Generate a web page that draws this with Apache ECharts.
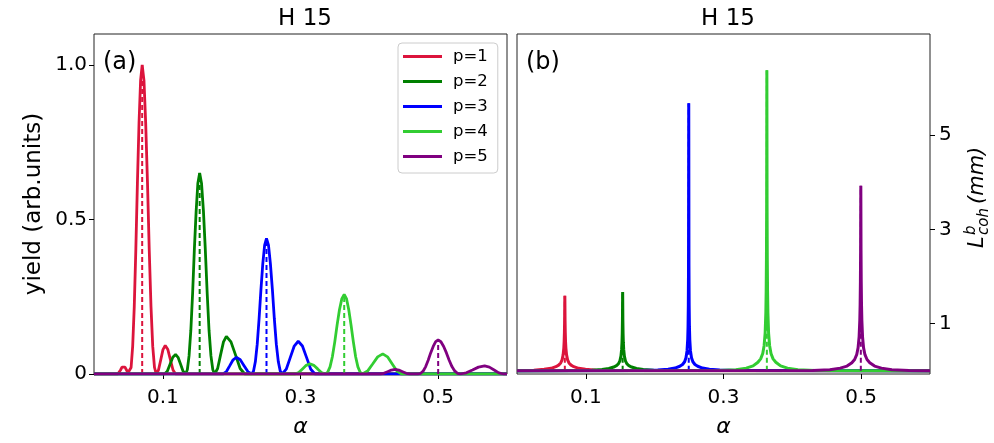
<!DOCTYPE html>
<html>
<head>
<meta charset="utf-8">
<script src="https://cdn.jsdelivr.net/npm/echarts@6/dist/echarts.min.js"></script>
<style>
html,body{margin:0;padding:0;background:#fff;}
#chart{width:994px;height:443px;}
</style>
</head>
<body>
<div id="chart"></div>
<script>
// ---------- DATA ----------
const seriesNames = ['p=1', 'p=2', 'p=3', 'p=4', 'p=5'];
const colors = ['#DC143C', '#008000', '#0000FF', '#32CD32', '#800080'];

const xTickValues = [0.1, 0.3, 0.5];
const xTickLabels = ['0.1', '0.3', '0.5'];
const yTickValuesA = [0, 0.5, 1.0];
const yTickLabelsA = ['0', '0.5', '1.0'];
const yTickValuesB = [1, 3, 5];
const yTickLabelsB = ['1', '3', '5'];

// panel (a): yield vs alpha
const yieldP1 = [[0,0],[0.0345,0],[0.0366,0.004],[0.0386,0.013],[0.0407,0.022],[0.0428,0.026],[0.0450,0.022],[0.0472,0.013],[0.0494,0.004],[0.0516,0],
  [0.0539,0.021],[0.0562,0.090],[0.0585,0.218],[0.0608,0.405],[0.0631,0.620],[0.0654,0.811],[0.0677,0.950],[0.0700,1.0],
  [0.0726,0.950],[0.0751,0.811],[0.0777,0.620],[0.0802,0.405],[0.0828,0.218],[0.0853,0.090],[0.0879,0.021],[0.0904,0],
  [0.0937,0.013],[0.0970,0.046],[0.1002,0.079],[0.1035,0.092],[0.1073,0.079],[0.1110,0.046],[0.1148,0.013],[0.1185,0],[0.6,0]];
const yieldP2 = [[0,0],[0.1025,0],[0.1065,0.0092],[0.1105,0.0315],[0.1145,0.054],[0.1185,0.063],[0.1221,0.054],[0.1258,0.0315],[0.1294,0.0092],[0.1330,0],
  [0.1356,0.0137],[0.1381,0.0585],[0.1407,0.1417],[0.1433,0.263],[0.1458,0.403],[0.1484,0.527],[0.1509,0.6175],[0.1535,0.65],
  [0.1562,0.6175],[0.1590,0.527],[0.1617,0.403],[0.1644,0.263],[0.1671,0.1417],[0.1699,0.0585],[0.1726,0.0137],[0.1753,0],
  [0.1796,0.0178],[0.1838,0.061],[0.1881,0.104],[0.1923,0.122],[0.1990,0.104],[0.2057,0.061],[0.2123,0.0178],[0.2190,0],[0.6,0]];
const yieldP3 = [[0,0],[0.1875,0],[0.1924,0.0079],[0.1973,0.027],[0.2021,0.046],[0.2070,0.054],[0.2125,0.046],[0.2180,0.027],[0.2235,0.0079],[0.2290,0],
  [0.2317,0.0092],[0.2344,0.0395],[0.2371,0.0957],[0.2398,0.178],[0.2425,0.272],[0.2452,0.356],[0.2479,0.417],[0.2506,0.439],
  [0.2535,0.417],[0.2563,0.356],[0.2592,0.272],[0.2620,0.178],[0.2649,0.0957],[0.2678,0.0395],[0.2706,0.0092],[0.2735,0],
  [0.2793,0.0155],[0.2851,0.053],[0.2909,0.0905],[0.2967,0.106],[0.3028,0.0905],[0.3089,0.053],[0.3149,0.0155],[0.3210,0],[0.6,0]];
const yieldP4 = [[0,0],[0.2920,0],[0.2974,0.0048],[0.3029,0.0165],[0.3083,0.028],[0.3137,0.033],[0.3193,0.028],[0.3249,0.0165],[0.3304,0.0048],[0.3360,0],
  [0.3394,0.0054],[0.3429,0.0231],[0.3463,0.056],[0.3498,0.104],[0.3532,0.159],[0.3566,0.208],[0.3601,0.244],[0.3635,0.257],
  [0.3668,0.244],[0.3701,0.208],[0.3734,0.159],[0.3768,0.104],[0.3801,0.056],[0.3834,0.0231],[0.3867,0.0054],[0.3900,0],
  [0.3974,0.0095],[0.4048,0.0325],[0.4121,0.0555],[0.4195,0.065],[0.4264,0.0555],[0.4333,0.0325],[0.4401,0.0095],[0.4470,0],[0.6,0]];
const yieldP5 = [[0,0],[0.4155,0],[0.4210,0.0022],[0.4265,0.0075],[0.4320,0.0128],[0.4375,0.015],[0.4429,0.0128],[0.4483,0.0075],[0.4536,0.0022],[0.4590,0],[0.4710,0],
  [0.4746,0.0023],[0.4783,0.0099],[0.4819,0.024],[0.4855,0.0446],[0.4891,0.0682],[0.4928,0.0892],[0.4964,0.1045],[0.5000,0.110],
  [0.5040,0.1045],[0.5080,0.0892],[0.5120,0.0682],[0.5160,0.0446],[0.5200,0.024],[0.5240,0.0099],[0.5280,0.0023],[0.5320,0],
  [0.5409,0.0038],[0.5498,0.013],[0.5586,0.0222],[0.5675,0.026],[0.5744,0.0222],[0.5813,0.013],[0.5881,0.0038],[0.5950,0],[0.6,0]];
const peakAlphaA = [0.0700, 0.1535, 0.2506, 0.3635, 0.5000];
const peakYieldA = [1.0, 0.65, 0.439, 0.257, 0.110];

// panel (b): coherence length vs alpha
const lcohP1 = [[0,0.002],[0.0245,0.012],[0.0395,0.030],[0.0495,0.050],[0.0565,0.085],[0.0605,0.118],[0.0635,0.165],[0.0655,0.230],[0.0670,0.335],[0.0680,0.480],[0.0685,0.620],[0.0689,0.815],[0.0692,1.077],[0.0695,1.59],
  [0.0698,1.077],[0.0701,0.815],[0.0705,0.620],[0.0710,0.480],[0.0720,0.335],[0.0735,0.230],[0.0755,0.165],[0.0785,0.118],[0.0825,0.085],[0.0895,0.050],[0.0995,0.030],[0.1145,0.012],[0.1395,0.002],[0.6,0]];
const lcohP2 = [[0,0],[0.0835,0.002],[0.1085,0.011],[0.1235,0.027],[0.1335,0.046],[0.1405,0.078],[0.1445,0.106],[0.1475,0.150],[0.1495,0.210],[0.1510,0.310],[0.1520,0.452],[0.1525,0.590],[0.1529,0.791],[0.1532,1.073],[0.1535,1.67],
  [0.1538,1.073],[0.1541,0.791],[0.1545,0.590],[0.1550,0.452],[0.1560,0.310],[0.1575,0.210],[0.1595,0.150],[0.1625,0.106],[0.1665,0.078],[0.1735,0.046],[0.1835,0.027],[0.1985,0.011],[0.2235,0.002],[0.6,0]];
const lcohP3 = [[0,0],[0.1795,0.002],[0.2045,0.013],[0.2195,0.032],[0.2295,0.056],[0.2365,0.094],[0.2405,0.132],[0.2435,0.190],[0.2455,0.275],[0.2470,0.42],[0.2480,0.66],[0.2485,0.93],[0.2489,1.40],[0.2492,2.23],[0.2495,5.68],
  [0.2498,2.23],[0.2501,1.40],[0.2505,0.93],[0.2510,0.66],[0.2520,0.42],[0.2535,0.275],[0.2555,0.190],[0.2585,0.132],[0.2625,0.094],[0.2695,0.056],[0.2795,0.032],[0.2945,0.013],[0.3195,0.002],[0.6,0]];
const lcohP4 = [[0,0],[0.293,0.003],[0.318,0.020],[0.333,0.055],[0.343,0.102],[0.350,0.180],[0.354,0.252],[0.357,0.365],[0.359,0.530],[0.3605,0.80],[0.3615,1.23],[0.362,1.69],[0.3624,2.39],[0.3627,3.48],[0.363,6.38],
  [0.3633,3.48],[0.3636,2.39],[0.364,1.69],[0.3645,1.23],[0.3655,0.80],[0.367,0.530],[0.369,0.365],[0.372,0.252],[0.376,0.180],[0.383,0.102],[0.393,0.055],[0.408,0.020],[0.433,0.003],[0.6,0]];
const lcohP5 = [[0,0],[0.4295,0.003],[0.4545,0.020],[0.4695,0.055],[0.4795,0.098],[0.4865,0.170],[0.4905,0.238],[0.4935,0.340],[0.4955,0.485],[0.4970,0.72],[0.4980,1.07],[0.4985,1.41],[0.4989,1.90],[0.4992,2.56],[0.4995,3.93],
  [0.4998,2.56],[0.5001,1.90],[0.5005,1.41],[0.5010,1.07],[0.5020,0.72],[0.5035,0.485],[0.5055,0.340],[0.5085,0.238],[0.5125,0.170],[0.5195,0.098],[0.5295,0.055],[0.5445,0.020],[0.5695,0.003],[0.6,0]];
const peakAlphaB = [0.0695, 0.1535, 0.2495, 0.363, 0.4995];
const peakLcohB = [1.59, 1.67, 5.68, 6.38, 3.93];

const yieldData = [yieldP1, yieldP2, yieldP3, yieldP4, yieldP5];
const lcohData = [lcohP1, lcohP2, lcohP3, lcohP4, lcohP5];

// ---------- CHART ----------
const FONT = 'DejaVu Sans';
const chart = echarts.init(document.getElementById('chart'), null, {renderer: 'canvas'});

function labelFor(vals, labels) {
  return function (v) {
    for (let i = 0; i < vals.length; i++) if (Math.abs(vals[i] - v) < 1e-9) return labels[i];
    return '';
  };
}

const series = [];
for (let i = 0; i < 5; i++) {
  series.push({
    name: seriesNames[i], type: 'line', xAxisIndex: 0, yAxisIndex: 0,
    data: yieldData[i], symbol: 'none', showSymbol: false, clip: true,
    lineStyle: {color: colors[i], width: 2.8}, itemStyle: {color: colors[i]}, z: 2 + i * 2
  });
  series.push({
    name: 'vline a' + i, type: 'line', xAxisIndex: 0, yAxisIndex: 0,
    data: [[peakAlphaA[i], 0], [peakAlphaA[i], peakYieldA[i]]], symbol: 'none',
    lineStyle: {color: colors[i], width: 2, type: [5, 3]}, z: 3 + i * 2
  });
}
for (let i = 0; i < 5; i++) {
  series.push({
    name: seriesNames[i] + ' b', type: 'line', xAxisIndex: 1, yAxisIndex: 1,
    data: lcohData[i], symbol: 'none', showSymbol: false, clip: true,
    lineStyle: {color: colors[i], width: 3}, z: 2 + i * 2
  });
  series.push({
    name: 'vline b' + i, type: 'line', xAxisIndex: 1, yAxisIndex: 1,
    data: [[peakAlphaB[i], 0], [peakAlphaB[i], peakLcohB[i]]], symbol: 'none',
    lineStyle: {color: colors[i], width: 2, type: [5, 3]}, z: 3 + i * 2
  });
}

const axisCommonX = {
  type: 'value', min: 0, max: 0.6,
  name: 'α', nameLocation: 'middle', nameGap: 42,
  nameTextStyle: {fontFamily: FONT, fontSize: 22, fontStyle: 'italic', color: '#000'},
  axisLine: {show: false, onZero: false},
  axisTick: {show: true, customValues: xTickValues, length: 5, lineStyle: {color: '#000', width: 1}},
  axisLabel: {customValues: xTickValues, formatter: labelFor(xTickValues, xTickLabels), fontFamily: FONT, fontSize: 20, color: '#000', margin: 14},
  splitLine: {show: false}
};

const option = {
  animation: false,
  backgroundColor: '#fff',
  title: [
    {text: 'H 15', left: 300, top: 3, textAlign: 'center', textStyle: {fontFamily: FONT, fontSize: 23, fontWeight: 'normal', color: '#000'}},
    {text: 'H 15', left: 723, top: 3, textAlign: 'center', textStyle: {fontFamily: FONT, fontSize: 23, fontWeight: 'normal', color: '#000'}},
    {text: '(a)', left: 103, top: 51, padding: 0, textStyle: {fontFamily: FONT, fontSize: 24, fontWeight: 'normal', color: '#000'}},
    {text: '(b)', left: 526, top: 51, padding: 0, textStyle: {fontFamily: FONT, fontSize: 24, fontWeight: 'normal', color: '#000'}}
  ],
  legend: {
    data: seriesNames, left: 398, top: 43, orient: 'vertical',
    padding: [5, 10, 8, 5], itemGap: 8, itemWidth: 39, itemHeight: 3, icon: 'rect',
    backgroundColor: 'rgba(255,255,255,0.8)', borderColor: '#cccccc', borderWidth: 1, borderRadius: 4,
    textStyle: {fontFamily: FONT, fontSize: 16.5, color: '#000', lineHeight: 16.5, padding: [0, 0, 0, 6]},
    selectedMode: false
  },
  grid: [
    {left: 94, top: 34, width: 413, height: 344, show: true, borderColor: '#222', borderWidth: 1, backgroundColor: 'transparent'},
    {left: 517, top: 34, width: 413, height: 344, show: true, borderColor: '#222', borderWidth: 1, backgroundColor: 'transparent'}
  ],
  xAxis: [
    Object.assign({gridIndex: 0}, axisCommonX),
    Object.assign({gridIndex: 1}, axisCommonX)
  ],
  yAxis: [
    {
      type: 'value', gridIndex: 0, min: 0, max: 1.1, position: 'left',
      name: 'yield (arb.units)', nameLocation: 'middle', nameGap: 48,
      nameTextStyle: {fontFamily: FONT, fontSize: 23, color: '#000'},
      axisLine: {show: false, onZero: false},
      axisTick: {show: true, customValues: yTickValuesA, length: 5, lineStyle: {color: '#000', width: 1}},
      axisLabel: {customValues: yTickValuesA, formatter: labelFor(yTickValuesA, yTickLabelsA), fontFamily: FONT, fontSize: 20, color: '#000', margin: 7},
      splitLine: {show: false}
    },
    {
      type: 'value', gridIndex: 1, min: -0.07, max: 7.15, position: 'right',
      axisLine: {show: false, onZero: false},
      axisTick: {show: true, customValues: yTickValuesB, length: 5, lineStyle: {color: '#000', width: 1}},
      axisLabel: {customValues: yTickValuesB, formatter: labelFor(yTickValuesB, yTickLabelsB), fontFamily: FONT, fontSize: 20, color: '#000', margin: 9},
      splitLine: {show: false}
    }
  ],
  graphic: [{
    type: 'group', x: 984, y: 248, rotation: Math.PI / 2,
    children: [
      {type: 'text', x: 0, y: -6.5, style: {text: 'L', font: 'italic 21px "DejaVu Sans"', fill: '#000', verticalAlign: 'middle'}},
      {type: 'text', x: 13, y: -13, style: {text: 'b', font: 'italic 15px "DejaVu Sans"', fill: '#000', verticalAlign: 'middle'}},
      {type: 'text', x: 13, y: 0, style: {text: 'coh', font: 'italic 15px "DejaVu Sans"', fill: '#000', verticalAlign: 'middle'}},
      {type: 'text', x: 44, y: -6.5, style: {text: '(mm)', font: 'italic 21px "DejaVu Sans"', fill: '#000', verticalAlign: 'middle'}}
    ]
  }],
  series: series
};
chart.setOption(option);
</script>
</body>
</html>
